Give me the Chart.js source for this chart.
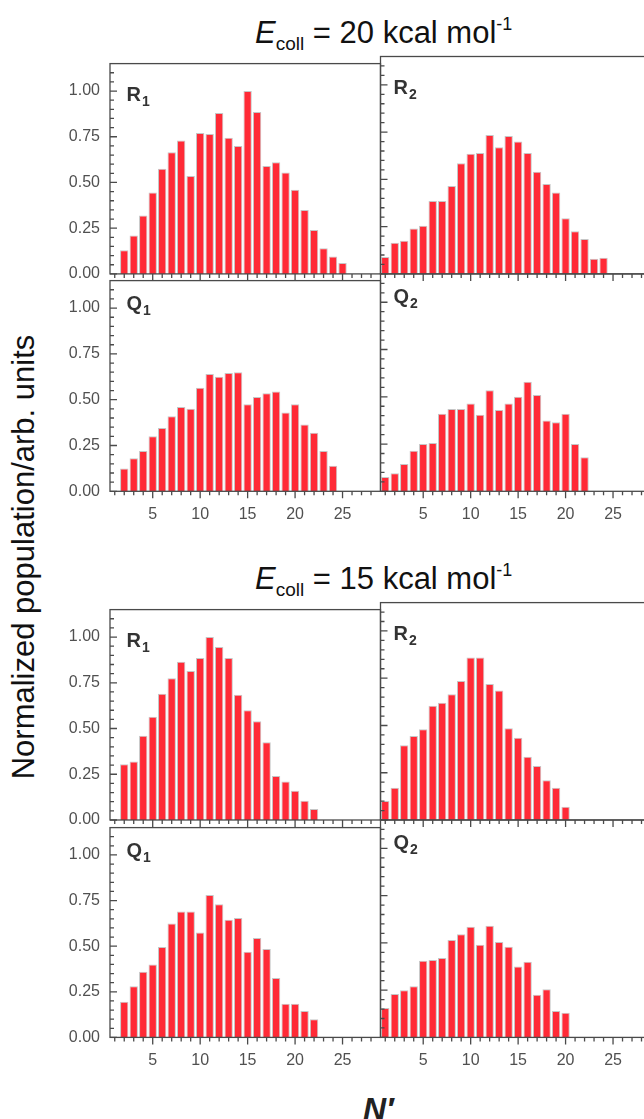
<!DOCTYPE html>
<html>
<head>
<meta charset="utf-8">
<title>Rotational distributions</title>
<script src="https://cdn.jsdelivr.net/npm/chart.js@4.4.1/dist/chart.umd.min.js"></script>
<style>
  html, body { margin: 0; padding: 0; background: #fff; overflow: hidden; }
  #fig { position: relative; width: 644px; height: 1119px; overflow: hidden;
         font-family: "Liberation Sans", Arial, Helvetica, sans-serif; }
  #fig canvas { position: absolute; }
  .ecoll { position: absolute; font-size: 31px; line-height: 31px; color: #111; white-space: nowrap; }
  .ecoll i { font-style: italic; }
  .ecoll .sub { font-size: 19px; position: relative; top: 7px; }
  .ecoll .sup { font-size: 18px; position: relative; top: -13px; }
  #ytitle { position: absolute; width: 520px; height: 36px; line-height: 36px; text-align: center;
            font-size: 31px; color: #111; white-space: nowrap; transform: rotate(-90deg); }
  #xtitle { position: absolute; font-size: 32px; line-height: 32px; font-weight: bold; font-style: italic; color: #222; }
</style>
</head>
<body>
<div id="fig">
  <div class="ecoll" style="left:255px; top:17px;"><i>E</i><span class="sub">coll</span> = 20 kcal mol<span class="sup">-1</span></div>
  <div class="ecoll" style="left:255px; top:563px;"><i>E</i><span class="sub">coll</span> = 15 kcal mol<span class="sup">-1</span></div>
  <div id="ytitle" style="left:-236px; top:539px;">Normalized population/arb. units</div>
  <div id="xtitle" style="left:363px; top:1093px;">N′</div>
</div>
<script>
// rotational levels N' covered by each branch
const n2to25 = [2, 3, 4, 5, 6, 7, 8, 9, 10, 11, 12, 13, 14, 15, 16, 17, 18, 19, 20, 21, 22, 23, 24, 25];
const n1to24 = [1, 2, 3, 4, 5, 6, 7, 8, 9, 10, 11, 12, 13, 14, 15, 16, 17, 18, 19, 20, 21, 22, 23, 24];
const n2to24 = [2, 3, 4, 5, 6, 7, 8, 9, 10, 11, 12, 13, 14, 15, 16, 17, 18, 19, 20, 21, 22, 23, 24];
const n1to22 = [1, 2, 3, 4, 5, 6, 7, 8, 9, 10, 11, 12, 13, 14, 15, 16, 17, 18, 19, 20, 21, 22];
const n2to22 = [2, 3, 4, 5, 6, 7, 8, 9, 10, 11, 12, 13, 14, 15, 16, 17, 18, 19, 20, 21, 22];
const n1to20 = [1, 2, 3, 4, 5, 6, 7, 8, 9, 10, 11, 12, 13, 14, 15, 16, 17, 18, 19, 20];

// normalized populations, Ecoll = 20 kcal/mol
const popR1_20 = [0.13, 0.21, 0.32, 0.445, 0.575, 0.665, 0.73, 0.535, 0.77, 0.765, 0.88, 0.745,
                  0.70, 1.00, 0.885, 0.59, 0.61, 0.555, 0.46, 0.35, 0.24, 0.14, 0.095, 0.06];
const popR2_20 = [0.09, 0.165, 0.175, 0.24, 0.255, 0.385, 0.385, 0.465, 0.585, 0.635, 0.64, 0.735,
                  0.67, 0.73, 0.70, 0.64, 0.54, 0.475, 0.43, 0.295, 0.225, 0.185, 0.08, 0.085];
const popQ1_20 = [0.125, 0.18, 0.22, 0.30, 0.345, 0.41, 0.46, 0.45, 0.565, 0.64, 0.625, 0.645,
                  0.65, 0.475, 0.515, 0.535, 0.545, 0.43, 0.475, 0.365, 0.32, 0.22, 0.14];
const popQ2_20 = [0.075, 0.095, 0.145, 0.215, 0.25, 0.255, 0.41, 0.435, 0.435, 0.465, 0.405, 0.535,
                  0.43, 0.465, 0.50, 0.58, 0.51, 0.375, 0.365, 0.41, 0.25, 0.18];

// normalized populations, Ecoll = 15 kcal/mol
const popR1_15 = [0.305, 0.32, 0.46, 0.565, 0.69, 0.775, 0.865, 0.815, 0.885, 1.00, 0.945,
                  0.885, 0.685, 0.60, 0.54, 0.425, 0.24, 0.21, 0.16, 0.105, 0.06];
const popR2_15 = [0.10, 0.17, 0.395, 0.445, 0.48, 0.605, 0.62, 0.665, 0.735, 0.86, 0.86, 0.72,
                  0.685, 0.485, 0.435, 0.335, 0.285, 0.21, 0.17, 0.07];
const popQ1_15 = [0.195, 0.28, 0.36, 0.40, 0.495, 0.625, 0.69, 0.69, 0.575, 0.78, 0.73, 0.645,
                  0.655, 0.47, 0.545, 0.485, 0.325, 0.185, 0.185, 0.145, 0.10];
const popQ2_15 = [0.155, 0.23, 0.25, 0.27, 0.405, 0.41, 0.42, 0.515, 0.545, 0.585, 0.49, 0.59,
                  0.505, 0.48, 0.375, 0.40, 0.225, 0.255, 0.14, 0.13];

// axis ticks
const xTickLabels = [5, 10, 15, 20, 25];
const yTickLabels = [0, 0.25, 0.5, 0.75, 1.0];
const X_MIN = 0.5, X_MAX = 29, Y_MAX = 1.15;

// layout of the 2x2 blocks
const PLOT_W = 270.5, PLOT_H = 217.4;
const COL_X = [110, 380.5];
const ROW_Y = [56.5, 273.9, 602.6, 820];
const Y_AXIS_W = 60, X_AXIS_H = 40;
const AXIS = '#4a4a4a';
const BAR_RED = '#ff2a36';
const BAR_EDGE = '#c6c6c6';

Chart.defaults.font.family = '"Liberation Sans", Arial, Helvetica, sans-serif';
Chart.defaults.font.size = 16;
Chart.defaults.color = '#505050';

// frame, inward y ticks, outward x ticks and the branch label
const frameTicks = {
  id: 'frameTicks',
  afterDraw(chart, args, opts) {
    const { ctx, chartArea: a, scales: { x, y } } = chart;
    ctx.save();
    ctx.strokeStyle = AXIS;
    ctx.lineWidth = 1.3;
    ctx.strokeRect(a.left, a.top, a.right - a.left, a.bottom - a.top);
    ctx.beginPath();
    for (let i = 0; i <= 22; i++) {
      const py = y.getPixelForValue(i * 0.05);
      const len = i % 5 === 0 ? 7 : 4;
      ctx.moveTo(a.left, py);
      ctx.lineTo(a.left + len, py);
    }
    for (let n = 1; n <= 28; n++) {
      const px = x.getPixelForValue(n);
      const len = n % 5 === 0 ? 7 : 4;
      ctx.moveTo(px, a.bottom);
      ctx.lineTo(px, a.bottom + len);
    }
    ctx.stroke();

    ctx.fillStyle = '#333';
    ctx.textBaseline = 'alphabetic';
    ctx.font = 'bold 20px "Liberation Sans", Arial, sans-serif';
    const lx = a.left + opts.dx;
    const base = a.top + opts.dy + 14.3;
    ctx.fillText(opts.name, lx, base);
    const w = ctx.measureText(opts.name).width;
    ctx.font = 'bold 14px "Liberation Sans", Arial, sans-serif';
    ctx.fillText(opts.sub, lx + w + 1, base + 5);
    ctx.restore();
  }
};

const fig = document.getElementById('fig');

function panel(col, row, levels, pops, branch, sub) {
  const canvasLeft = col === 0 ? 0 : 370;
  const canvasW = col === 0 ? 400 : 300;
  const top = ROW_Y[row];
  const canvasTop = Math.floor(top) - 12;
  const canvasH = Math.ceil(PLOT_H) + 12 + 50;
  const cv = document.createElement('canvas');
  cv.width = canvasW;
  cv.height = canvasH;
  cv.style.left = canvasLeft + 'px';
  cv.style.top = canvasTop + 'px';
  cv.style.width = canvasW + 'px';
  cv.style.height = canvasH + 'px';
  fig.appendChild(cv);

  const showX = row === 1 || row === 3;
  const showY = col === 0;
  const yW = showY ? Y_AXIS_W : 0;
  const padL = COL_X[col] - canvasLeft - yW;
  const padT = top - canvasTop;
  const padR = canvasW - (COL_X[col] - canvasLeft) - PLOT_W;
  const padB = canvasH - padT - PLOT_H - X_AXIS_H;
  const isR = branch === 'R';

  new Chart(cv, {
    type: 'bar',
    data: {
      datasets: [{
        data: levels.map((n, i) => ({ x: n, y: pops[i] })),
        backgroundColor: BAR_RED,
        borderColor: BAR_EDGE,
        borderWidth: 1,
        barPercentage: 0.88,
        categoryPercentage: 1.0
      }]
    },
    options: {
      responsive: false,
      animation: false,
      devicePixelRatio: 1,
      layout: { autoPadding: false, padding: { left: padL, top: padT, right: padR, bottom: padB } },
      plugins: {
        legend: { display: false },
        tooltip: { enabled: false },
        frameTicks: { name: branch, sub: sub, dx: col === 0 ? 16.5 : 13, dy: isR ? 23 : 15 }
      },
      scales: {
        x: {
          type: 'linear', min: X_MIN, max: X_MAX, offset: false,
          grid: { display: false, drawTicks: false }, border: { display: false },
          afterBuildTicks: s => { s.ticks = xTickLabels.map(v => ({ value: v })); },
          afterFit: s => { s.height = X_AXIS_H; },
          ticks: { display: showX, padding: 14, maxRotation: 0, autoSkip: false }
        },
        y: {
          type: 'linear', min: 0, max: Y_MAX,
          grid: { display: false, drawTicks: false }, border: { display: false },
          afterBuildTicks: s => { s.ticks = yTickLabels.map(v => ({ value: v })); },
          afterFit: s => { s.width = yW; },
          ticks: { display: showY, padding: 10, callback: v => Number(v).toFixed(2) }
        }
      }
    },
    plugins: [frameTicks]
  });
}

panel(0, 0, n2to25, popR1_20, 'R', '1');
panel(1, 0, n1to24, popR2_20, 'R', '2');
panel(0, 1, n2to24, popQ1_20, 'Q', '1');
panel(1, 1, n1to22, popQ2_20, 'Q', '2');
panel(0, 2, n2to22, popR1_15, 'R', '1');
panel(1, 2, n1to20, popR2_15, 'R', '2');
panel(0, 3, n2to22, popQ1_15, 'Q', '1');
panel(1, 3, n1to20, popQ2_15, 'Q', '2');
</script>
</body>
</html>
